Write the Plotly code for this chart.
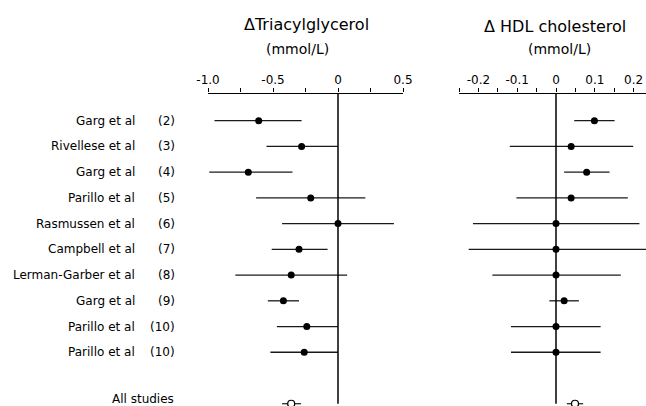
import plotly.graph_objects as go

studies = ["Garg et al", "Rivellese et al", "Garg et al", "Parillo et al", "Rasmussen et al",
           "Campbell et al", "Lerman-Garber et al", "Garg et al", "Parillo et al", "Parillo et al"]
refs = ["(2)", "(3)", "(4)", "(5)", "(6)", "(7)", "(8)", "(9)", "(10)", "(10)"]
rows = list(range(10))
pooled_row = 11

tg_est = [-0.61, -0.28, -0.69, -0.21, 0.0, -0.30, -0.36, -0.42, -0.24, -0.26]
tg_lo = [-0.95, -0.55, -0.99, -0.63, -0.43, -0.51, -0.79, -0.54, -0.47, -0.52]
tg_hi = [-0.28, 0.0, -0.35, 0.21, 0.43, -0.08, 0.07, -0.30, 0.0, 0.0]
tg_all = [-0.36, -0.43, -0.285]

hdl_est = [0.099, 0.039, 0.079, 0.039, 0.0, 0.0, 0.0, 0.021, 0.0, 0.0]
hdl_lo = [0.047, -0.119, 0.021, -0.102, -0.214, -0.225, -0.164, -0.017, -0.116, -0.116]
hdl_hi = [0.151, 0.199, 0.138, 0.185, 0.215, 0.232, 0.167, 0.059, 0.115, 0.115]
hdl_all = [0.049, 0.028, 0.07]

tg_ticks = [-1.0, -0.5, 0, 0.5]
tg_ticktext = ["-1.0", "-0.5", "0", "0.5"]
hdl_ticks = [-0.2, -0.1, 0, 0.1, 0.2]
hdl_ticktext = ["-0.2", "-0.1", "0", "0.1", "0.2"]

W, H = 646, 406
FONT = "DejaVu Sans"
LC = "#1a1a1a"

fig = go.Figure()

def add_panel(est, lo, hi, pooled, xaxis):
    fig.add_trace(go.Scatter(
        x=est, y=rows, mode="markers", xaxis=xaxis, yaxis="y",
        marker=dict(size=7, color="black"),
        error_x=dict(type="data", symmetric=False,
                     array=[h - e for h, e in zip(hi, est)],
                     arrayminus=[e - l for e, l in zip(est, lo)],
                     thickness=1.3, width=0, color=LC),
        showlegend=False, cliponaxis=False, hoverinfo="skip"))
    fig.add_trace(go.Scatter(
        x=[pooled[0]], y=[pooled_row], mode="markers", xaxis=xaxis, yaxis="y",
        marker=dict(size=7, color="white", line=dict(color="black", width=1.2)),
        error_x=dict(type="data", symmetric=False,
                     array=[pooled[2] - pooled[0]], arrayminus=[pooled[0] - pooled[1]],
                     thickness=1.2, width=0, color=LC),
        showlegend=False, cliponaxis=False, hoverinfo="skip"))

add_panel(tg_est, tg_lo, tg_hi, tg_all, "x")
add_panel(hdl_est, hdl_lo, hdl_hi, hdl_all, "x2")

y_top = (93.5 - 120.7) / 25.73
y_bot = (406 - 120.7) / 25.73
ydom_top = (H - 93.5) / H

axis_common = dict(side="top", showline=True, linecolor="black", linewidth=1.3,
                   ticks="outside", ticklen=4, tickwidth=1.2, tickcolor="black",
                   showgrid=False, zeroline=False, anchor="y", automargin=False,
                   tickfont=dict(family=FONT, size=12, color="black"),
                   minor=dict(ticks="outside", ticklen=4, tickwidth=1.2, tickcolor="black", showgrid=False),
                   fixedrange=True)

fig.update_layout(
    width=W, height=H, autosize=False, margin=dict(l=0, r=0, t=0, b=0, autoexpand=False),
    paper_bgcolor="white", plot_bgcolor="white",
    xaxis=dict(domain=[208 / W, 403 / W], range=[-1.0, 0.5],
               tickvals=tg_ticks, ticktext=tg_ticktext, **axis_common),
    xaxis2=dict(domain=[459 / W, 1.0], range=[-0.25, -0.25 + 187 / 388],
                tickvals=hdl_ticks, ticktext=hdl_ticktext, **axis_common),
    yaxis=dict(domain=[0, ydom_top], range=[y_bot, y_top], visible=False,
               fixedrange=True, automargin=False),
)
fig.layout.xaxis.minor.dtick = 0.25
fig.layout.xaxis.minor.tick0 = 0
fig.layout.xaxis2.minor.dtick = 0.05
fig.layout.xaxis2.minor.tick0 = 0

for xr in ["x", "x2"]:
    fig.add_shape(type="line", xref=xr, yref="y", x0=0, x1=0, y0=y_top, y1=pooled_row,
                  line=dict(color="black", width=1.5))

for i, (s, r) in enumerate(zip(studies, refs)):
    fig.add_annotation(x=137 / W, y=i, xref="paper", yref="y", text=s, showarrow=False,
                       xanchor="right", yanchor="middle",
                       font=dict(family=FONT, size=12, color="black"))
    fig.add_annotation(x=177 / W, y=i, xref="paper", yref="y", text=r, showarrow=False,
                       xanchor="right", yanchor="middle",
                       font=dict(family=FONT, size=12, color="black"))
fig.add_annotation(x=176 / W, y=(399 - 120.7) / 25.73, xref="paper", yref="y", text="All studies",
                   showarrow=False, xanchor="right", yanchor="middle",
                   font=dict(family=FONT, size=12, color="black"))

titles = [
    (306, 25, "\u0394Triacylglycerol", 16),
    (297, 49, "(mmol/L)", 14),
    (555, 26, "\u0394 HDL cholesterol", 16),
    (559, 49, "(mmol/L)", 14),
]
for x, y, t, sz in titles:
    fig.add_annotation(x=x / W, y=1 - y / H, xref="paper", yref="paper", text=t,
                       showarrow=False, xanchor="center", yanchor="middle",
                       font=dict(family=FONT, size=sz, color="black"))

fig.write_html("out.html", config={"responsive": False, "displayModeBar": False},
               post_script="document.body.style.margin='0';document.body.style.overflow='hidden';")
